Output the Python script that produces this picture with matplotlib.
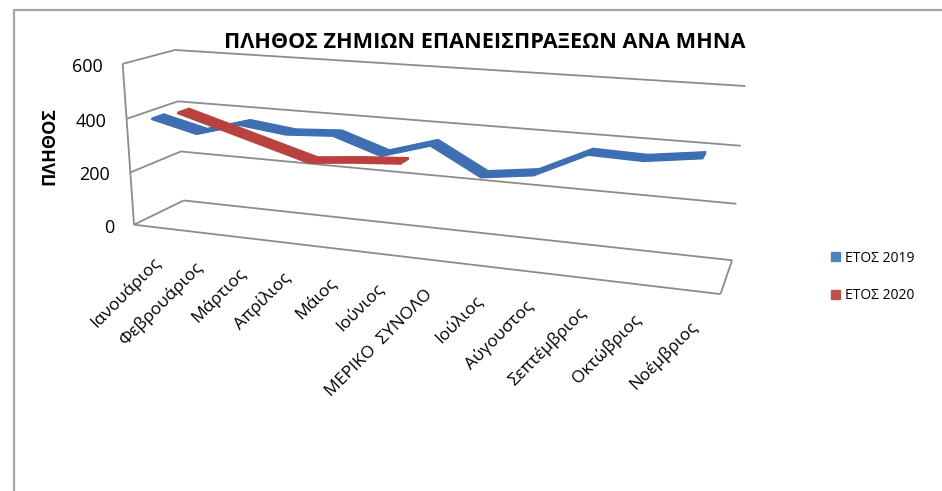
import numpy as np
import matplotlib
matplotlib.use("Agg")
import matplotlib.pyplot as plt
import matplotlib.transforms as mtransforms
from matplotlib.patches import Patch, Rectangle

plt.rcParams['font.family'] = ['Open Sans', 'DejaVu Sans']

# Δεδομένα
months = ['Ιανουάριος', 'Φεβρουάριος', 'Μάρτιος', 'Απρίλιος', 'Μάιος', 'Ιούνιος',
          'ΜΕΡΙΚΟ  ΣΥΝΟΛΟ', 'Ιούλιος', 'Αύγουστος', 'Σεπτέμβριος', 'Οκτώβριος', 'Νοέμβριος']
etos_2019 = [400, 360, 406, 386, 396, 340, 391, 298, 321, 405, 400, 424]
etos_2020 = [388, 340, 292, 244, 260, 272]
yticks = [0, 200, 400, 600]

W, H = 942, 491

# Γεωμετρία του 3Δ κουτιού: (κατηγορία, βάθος, τιμή) -> pixel
box = [
    ((-0.5, 0, 0), (133, 225)), ((-0.5, 0, 200), (131, 173)),
    ((-0.5, 0, 400), (127, 118)), ((-0.5, 0, 600), (123, 63)),
    ((-0.5, 1, 0), (183, 200)), ((-0.5, 1, 200), (182, 152)),
    ((-0.5, 1, 400), (179, 101)), ((-0.5, 1, 600), (173, 51)),
    ((11.5, 1, 0), (732, 259)), ((11.5, 1, 200), (737, 204)),
    ((11.5, 1, 400), (741, 146)), ((11.5, 1, 600), (745, 86)),
    ((11.5, 0, 0), (720, 295)),
]
A = []
for (X, Y, Z), (u, v) in box:
    Z, u, v = Z / 100, u / 100, v / 100
    A.append([X, Y, Z, 1, 0, 0, 0, 0, -u * X, -u * Y, -u * Z, -u])
    A.append([0, 0, 0, 0, X, Y, Z, 1, -v * X, -v * Y, -v * Z, -v])
P = np.linalg.svd(np.array(A))[2][-1].reshape(3, 4)


class Proj(mtransforms.Transform):
    """Προβολή ενός επιπέδου του κουτιού (ένας άξονας σταθερός)."""
    input_dims = 2
    output_dims = 2

    def __init__(self, fixed_axis, fixed_value):
        super().__init__()
        self.fa = fixed_axis
        self.fv = fixed_value

    def transform_non_affine(self, values):
        values = np.asarray(values, dtype=float)
        n = len(values)
        free = [k for k in range(3) if k != self.fa]
        w = np.ones((4, n))
        w[self.fa] = self.fv
        w[free[0]] = values[:, 0]
        w[free[1]] = values[:, 1]
        w[2] /= 100
        p = P @ w
        return np.column_stack([p[0] / p[2], p[1] / p[2]]) * 100


fig = plt.figure(figsize=(W / 100, H / 100), dpi=100)
ax = fig.add_axes([0, 0, 1, 1])
ax.set_xlim(0, W)
ax.set_ylim(H, 0)
ax.axis('off')

grid = dict(color='#8c8c8c', lw=1.3, solid_capstyle='butt')
back = Proj(1, 1.0) + ax.transData
side = Proj(0, -0.5) + ax.transData
floor = Proj(2, 0.0) + ax.transData
front = Proj(1, 0.0) + ax.transData

for t in yticks:
    ax.plot([-0.5, 11.5], [t, t], transform=back, **grid)
    ax.plot([0, 1], [t, t], transform=side, **grid)
ax.plot([0, 0], [0, 600], transform=side, **grid)
ax.plot([-0.5, 11.5], [0, 0], transform=floor, **grid)
ax.plot([11.5, 11.5], [0, 1], transform=floor, **grid)

# Ταινίες δεδομένων (γραμμές σε διαδοχικά βάθη)
x19 = np.arange(len(etos_2019))
x20 = np.arange(len(etos_2020))
for d in np.linspace(0.09, 0.31, 9):
    ax.plot(x19, etos_2019, color='#3d6fb2', lw=2.1, solid_joinstyle='miter',
            transform=Proj(1, d) + ax.transData, zorder=3)
for d in np.linspace(0.59, 0.81, 9):
    ax.plot(x20, etos_2020, color='#b9423e', lw=2.1, solid_joinstyle='miter',
            transform=Proj(1, d) + ax.transData, zorder=4)

# Ετικέτες αξόνων
px = fig.dpi_scale_trans
for t in yticks:
    ax.text(-0.5, t, str(t), fontsize=13, ha='right', va='center',
            transform=front + mtransforms.ScaledTranslation(-0.20, -0.03, px))
for i, m in enumerate(months):
    ax.text(i, 0, m, fontsize=12.5, ha='right', va='center', rotation=45,
            rotation_mode='anchor',
            transform=floor + mtransforms.ScaledTranslation(0.03, -0.33, px))

fig.text(485 / W, 1 - 42 / H, 'ΠΛΗΘΟΣ ΖΗΜΙΩΝ ΕΠΑΝΕΙΣΠΡΑΞΕΩΝ ΑΝΑ ΜΗΝΑ',
         fontsize=15.6, fontweight='bold', ha='center', va='center')
fig.text(49 / W, 1 - 146 / H, 'ΠΛΗΘΟΣ', fontsize=13, fontweight='bold',
         rotation=90, ha='center', va='center')

handles = [Patch(color='#4f81bd', label='ΕΤΟΣ 2019'),
           Patch(color='#c0504d', label='ΕΤΟΣ 2020')]
fig.legend(handles=handles, loc='upper left', bbox_to_anchor=(818 / W, 1 - 238 / H),
           frameon=False, fontsize=10, handlelength=0.65, handleheight=0.65,
           handletextpad=0.4, labelspacing=1.65)

fig.patches.append(Rectangle((14 / W, -0.1), 2, 1.1 - 10 / H, transform=fig.transFigure,
                             fill=False, ec='#a6a6a6', lw=1.6))

fig.savefig('out.png', dpi=100)
